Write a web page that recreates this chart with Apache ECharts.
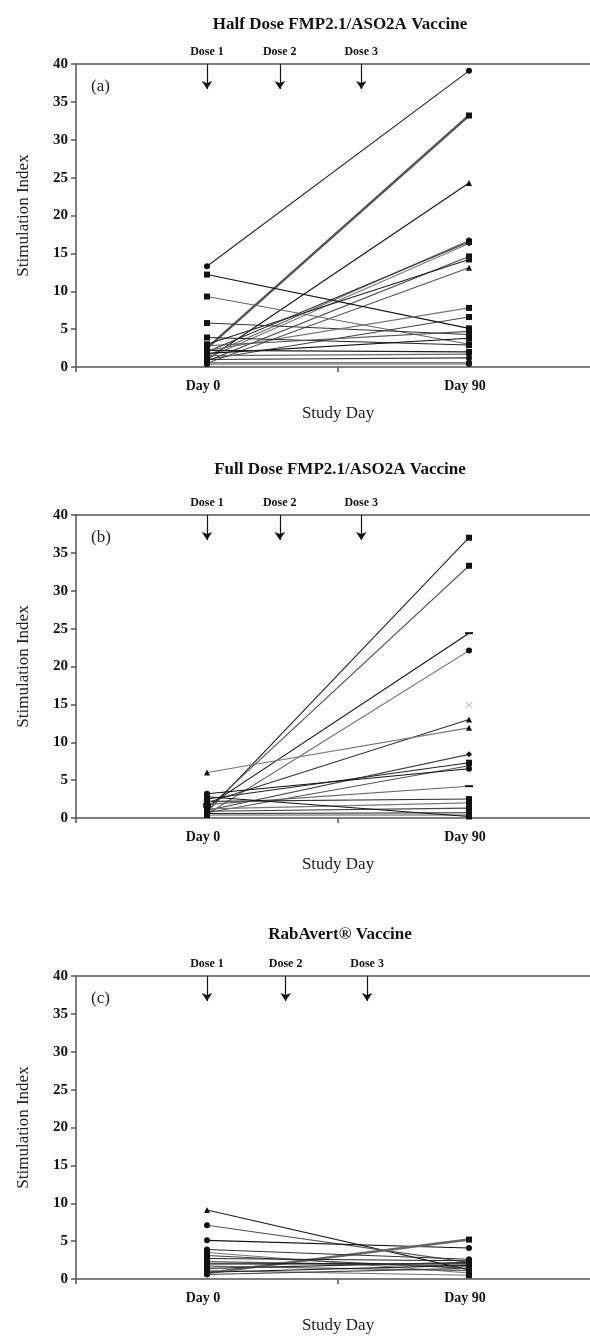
<!DOCTYPE html>
<html>
<head>
<meta charset="utf-8">
<script src="https://cdn.jsdelivr.net/npm/echarts@6/dist/echarts.min.js"></script>
<style>
  html, body { margin: 0; padding: 0; background: #fff; }
  #chart { width: 590px; height: 1343px; }
</style>
</head>
<body>
<div id="chart"></div>
<script>
// panel titles and dose arrows
const panelTitles = ['Half Dose FMP2.1/ASO2A Vaccine', 'Full Dose FMP2.1/ASO2A Vaccine', 'RabAvert\u00ae Vaccine']
const panelTags = ['(a)', '(b)', '(c)']
const doseLabels = ['Dose 1', 'Dose 2', 'Dose 3']
const doseDaysAB = [0, 25, 53]
const doseDaysC = [0, 27, 55]
const studyDays = [0, 90]
const yTicks = [0, 5, 10, 15, 20, 25, 30, 35, 40]

// (a) half dose: stimulation index at day 0 and day 90, one entry per subject
const halfDay0 = [13.3, 2.5, 1.0, 1.5, 2.0, 1.2, 0.8, 3.0, 0.5, 12.2, 9.3, 5.8, 2.2, 1.0, 3.9, 2.8, 1.8, 1.5, 1.0, 0.6, 0.4, 2.2]
const halfDay90 = [39.1, 33.2, 24.3, 16.7, 16.5, 16.3, 14.6, 14.2, 13.1, 5.1, 3.0, 4.3, 7.8, 6.6, 2.9, 4.7, 3.8, 1.7, 1.2, 0.6, 0.4, 2.0]
const halfMarks = ['circle', 'rect', 'triangle', 'circle', 'rect', 'diamond', 'rect', 'rect', 'triangle', 'rect', 'rect', 'rect', 'rect', 'rect', 'rect', 'rect', 'rect', 'circle', 'circle', 'circle', 'circle', 'rect']

// (b) full dose
const fullDay0 = [0.8, 1.2, 1.5, 0.5, 2.0, 6.0, 1.0, 2.5, 0.7, 3.2, 1.8, 2.2, 1.2, 0.9, 0.6, 0.4, 2.8, null]
const fullDay90 = [37.0, 33.3, 24.4, 22.1, 13.0, 11.9, 8.4, 7.3, 6.9, 6.5, 4.2, 2.5, 2.0, 1.3, 0.7, 0.4, 0.2, 14.9]
const fullMarks = ['rect', 'rect', 'dash', 'circle', 'triangle', 'triangle', 'diamond', 'rect', 'diamond', 'circle', 'dash', 'rect', 'rect', 'rect', 'rect', 'rect', 'rect', 'cross']

// (c) RabAvert
const rabDay0 = [9.1, 7.1, 5.1, 0.8, 3.9, 3.5, 3.1, 2.7, 2.3, 2.0, 1.7, 1.4, 1.1, 0.6, 0.9]
const rabDay90 = [1.2, 2.2, 4.1, 5.2, 2.6, 0.8, 1.4, 2.4, 1.7, 2.0, 1.1, 2.2, 0.5, 1.4, 1.8]
const rabMarks = ['triangle', 'circle', 'circle', 'rect', 'circle', 'rect', 'rect', 'circle', 'rect', 'rect', 'circle', 'rect', 'rect', 'circle', 'rect']

const serif = '"Liberation Serif", "DejaVu Serif", serif'
const lineColors = ['#222', '#555', '#111', '#666', '#333', '#777', '#444']
const grids = [
  { left: 76, width: 524, top: 64, height: 303, outerBoundsMode: 'none' },
  { left: 76, width: 524, top: 515, height: 303, outerBoundsMode: 'none' },
  { left: 76, width: 524, top: 976, height: 303, outerBoundsMode: 'none' }
]
const titleTops = [11, 456, 921]

const symbolOf = (m) => {
  if (m === 'dash') return 'rect'
  if (m === 'cross') return 'path://M0,1L1,0L5,4L9,0L10,1L6,5L10,9L9,10L5,6L1,10L0,9L4,5Z'
  return m
}
const sizeOf = (m) => (m === 'dash' ? [8, 2] : m === 'cross' ? 7 : 6)

const chart = echarts.init(document.getElementById('chart'))

const xAxes = []
const yAxes = []
const titles = []
const series = []

grids.forEach((g, p) => {
  titles.push({
    text: panelTitles[p],
    left: 335,
    textAlign: 'center',
    top: titleTops[p],
    textStyle: { fontFamily: serif, fontWeight: 'bold', fontSize: 17, color: '#111' }
  })
  titles.push({
    text: panelTags[p],
    left: 86,
    top: g.top + 9,
    textStyle: { fontFamily: serif, fontWeight: 'normal', fontSize: 17, color: '#222' }
  })

  xAxes.push({
    gridIndex: p,
    type: 'value',
    min: -45,
    max: 135,
    name: 'Study Day',
    nameLocation: 'middle',
    nameGap: 38,
    nameTextStyle: { fontFamily: serif, fontSize: 17, color: '#222' },
    axisLine: { onZero: false, lineStyle: { color: '#555', width: 1.5 } },
    axisTick: { show: true, length: 5, customValues: [-45, 45, 135], lineStyle: { color: '#555', width: 1.5 } },
    axisLabel: {
      customValues: studyDays,
      formatter: (v) => 'Day ' + v,
      margin: 12,
      padding: [0, 8, 0, 0],
      fontFamily: serif, fontWeight: 'bold', fontSize: 14, color: '#111'
    },
    splitLine: { show: false }
  })
  xAxes.push({
    gridIndex: p,
    type: 'value',
    position: 'top',
    min: -45,
    max: 135,
    axisLine: { onZero: false, lineStyle: { color: '#555', width: 1.5 } },
    axisTick: { show: false },
    axisLabel: { show: false },
    splitLine: { show: false }
  })
  yAxes.push({
    gridIndex: p,
    type: 'value',
    min: 0,
    max: 40,
    interval: 5,
    name: 'Stimulation Index',
    nameLocation: 'middle',
    nameGap: 44,
    nameTextStyle: { fontFamily: serif, fontSize: 17, color: '#222' },
    axisLine: { show: true, onZero: false, lineStyle: { color: '#555', width: 1.5 } },
    axisTick: { show: true, length: 5, lineStyle: { color: '#555', width: 1.5 } },
    axisLabel: {
      margin: 8,
      fontFamily: serif, fontWeight: 'bold', fontSize: 15, color: '#111',
      customValues: yTicks
    },
    splitLine: { show: false }
  })
})

const addPanel = (p, d0, d90, marks) => {
  d0.forEach((v0, i) => {
    const m = marks[i]
    const pts = []
    if (v0 != null) pts.push([studyDays[0], v0])
    if (d90[i] != null) pts.push([studyDays[1], d90[i]])
    const col = m === 'cross' ? '#bbb' : lineColors[i % lineColors.length]
    const thick = (p === 0 && i === 1) || (p === 2 && i === 3)
    series.push({
      type: 'line',
      xAxisIndex: p * 2,
      yAxisIndex: p,
      data: pts,
      symbol: symbolOf(m),
      symbolSize: sizeOf(m),
      showAllSymbol: true,
      lineStyle: { color: col, width: thick ? 2.5 : 1.1 },
      itemStyle: { color: m === 'cross' ? '#bbb' : '#111' },
      silent: true,
      z: 3
    })
  })
}
addPanel(0, halfDay0, halfDay90, halfMarks)
addPanel(1, fullDay0, fullDay90, fullMarks)
addPanel(2, rabDay0, rabDay90, rabMarks)

// dose arrows
;[doseDaysAB, doseDaysAB, doseDaysC].forEach((days, p) => {
  series.push({
    type: 'line',
    xAxisIndex: p * 2,
    yAxisIndex: p,
    data: [],
    silent: true,
    markLine: {
      silent: true,
      symbol: ['none', 'arrow'],
      symbolSize: 8,
      lineStyle: { color: '#111', width: 1.2, type: 'solid' },
      label: {
        show: true,
        position: 'start',
        distance: 6,
        formatter: '{b}',
        fontFamily: serif, fontWeight: 'bold', fontSize: 12, color: '#111'
      },
      data: days.map((d, i) => [
        { coord: [d, 40], name: doseLabels[i] },
        { coord: [d, 36.7] }
      ])
    }
  })
})

chart.setOption({
  animation: false,
  backgroundColor: '#fff',
  title: titles,
  grid: grids,
  xAxis: xAxes,
  yAxis: yAxes,
  series: series
})
</script>
</body>
</html>
